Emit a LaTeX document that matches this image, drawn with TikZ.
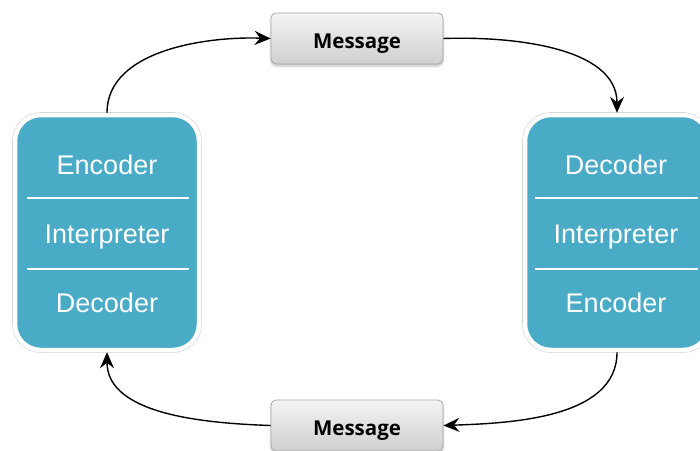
\documentclass[tikz,border=0pt]{standalone}
\usepackage{fontspec}
\setmainfont{Liberation Sans}
\newfontfamily\msgfont{Open Sans}
\usetikzlibrary{arrows.meta,shadows.blur}
\definecolor{teal}{HTML}{4AABC6}
\definecolor{msgtop}{HTML}{F4F4F4}
\definecolor{msgbot}{HTML}{CFCFCF}
\definecolor{msgedge}{HTML}{A8A8A8}
\tikzset{
  party/.style={rounded corners=26pt, fill=teal, draw=white, line width=4.5pt,
    preaction={draw=black!18, line width=5.6pt},
    minimum width=184pt, minimum height=235pt, inner sep=0pt},
  role/.style={text=white, font=\fontsize{27}{30}\selectfont,
    text height=19pt, text depth=0pt, inner sep=0pt},
  divider/.style={white, line width=1.6pt},
  msgbox/.style={rounded corners=5pt, draw=msgedge, line width=0.8pt,
    top color=msgtop, bottom color=msgbot,
    blur shadow={shadow xshift=0pt, shadow yshift=-2pt, shadow blur steps=6, shadow opacity=25},
    minimum width=172pt, minimum height=51pt, inner sep=0pt,
    text height=19pt, text depth=0pt,
    font=\msgfont\bfseries\fontsize{20.5}{24}\selectfont},
  flow/.style={line width=1.4pt, -{Stealth[length=16pt,width=14pt,inset=5.5pt]}}
}
\begin{document}
\begin{tikzpicture}[x=1pt,y=-1pt]
  \useasboundingbox (0,0) rectangle (700,450);

  % the two parties
  \node[party] (L) at (107,232.5) {};
  \node[party] (R) at (617,232.5) {};

  % roles inside the sender
  \node[role] (le) at (107,164.5) {Encoder};
  \node[role] (li) at (107,233.5) {Interpreter};
  \node[role] (ld) at (107,302.5) {Decoder};
  \coordinate (la1) at (27,198);  \coordinate (lb1) at (189,198);
  \coordinate (la2) at (27,269);  \coordinate (lb2) at (189,269);
  \draw[divider] (la1) -- (lb1);
  \draw[divider] (la2) -- (lb2);

  % roles inside the receiver
  \node[role] (rd) at (616,164.5) {Decoder};
  \node[role] (ri) at (616,233.5) {Interpreter};
  \node[role] (re) at (616,302.5) {Encoder};
  \coordinate (ra1) at (535,198);  \coordinate (rb1) at (698,198);
  \coordinate (ra2) at (535,269);  \coordinate (rb2) at (698,269);
  \draw[divider] (ra1) -- (rb1);
  \draw[divider] (ra2) -- (rb2);

  % messages
  \node[msgbox] (M1) at (357,38.5) {Message};
  \node[msgbox] (M2) at (357,425.5) {Message};

  % communication loop
  \draw[flow] (L.north) to[out=90,in=178,looseness=0.9] (M1.west);
  \draw[flow] (M1.east) to[out=2,in=90,looseness=0.9] (R.north);
  \draw[flow] (R.south) to[out=-90,in=2,looseness=0.9] (M2.east);
  \draw[flow] (M2.west) to[out=178,in=-90,looseness=0.9] (L.south);
\end{tikzpicture}
\end{document}
